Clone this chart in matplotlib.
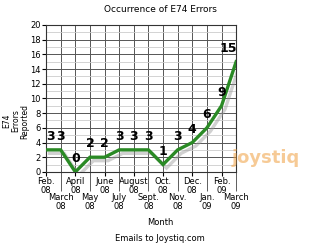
import matplotlib.pyplot as plt
import matplotlib.patheffects as pe
from matplotlib.ticker import FixedLocator

# Datos del gráfico
meses = ['Feb.\n08', 'March\n08', 'April\n08', 'May\n08', 'June\n08', 'July\n08',
         'August\n08', 'Sept.\n08', 'Oct.\n08', 'Nov.\n08', 'Dec.\n08', 'Jan.\n09',
         'Feb.\n09', 'March\n09']
errores = [3, 3, 0, 2, 2, 3, 3, 3, 1, 3, 4, 6, 9, 15]

fig = plt.figure(figsize=(3.2, 2.47), dpi=100)
ax = fig.add_axes([0.144, 0.304, 0.594, 0.595])

x = list(range(len(meses)))
ax.plot(x, errores, color='#2a8a25', linewidth=2.4, solid_joinstyle='miter',
        path_effects=[pe.SimpleLineShadow(offset=(2.5, -2.5), shadow_color='#999999', alpha=0.45),
                      pe.Normal()], zorder=3)

# Etiquetas de valores
for i, v in enumerate(errores):
    dx = 3 if i == 0 else (-6 if i == len(errores) - 1 else 0)
    ax.annotate(str(v), (i, v), xytext=(dx, 5), textcoords='offset points',
                ha='center', va='bottom', fontsize=9, fontweight='bold', zorder=4)

ax.set_xlim(0, len(meses) - 1)
ax.set_ylim(0, 20)

# Rejilla
ax.set_yticks(range(0, 21, 2))
ax.yaxis.set_minor_locator(FixedLocator(range(1, 20, 2)))
ax.set_xticks(x[0::2])
ax.set_xticks(x[1::2], minor=True)
ax.set_xticklabels(meses[0::2])
ax.set_xticklabels(meses[1::2], minor=True)
ax.grid(True, which='major', axis='both', color='#555555', linewidth=0.7)
ax.grid(True, which='minor', axis='x', color='#555555', linewidth=0.7)
ax.grid(True, which='minor', axis='y', color='#cccccc', linewidth=0.6)

ax.tick_params(axis='x', which='major', length=3, labelsize=6, pad=1)
ax.tick_params(axis='x', which='minor', length=14, labelsize=6, pad=1, color='#444444')
ax.tick_params(axis='y', which='major', length=3, labelsize=6, pad=1)
ax.tick_params(axis='y', which='minor', length=0)
for lbl in ax.get_xticklabels(which='both'):
    lbl.set_linespacing(1.0)
for s in ax.spines.values():
    s.set_color('#333333')
    s.set_linewidth(0.8)

fig.text(0.5, 0.96, 'Occurrence of E74 Errors', ha='center', va='center', fontsize=6.5)
fig.text(0.05, 0.51, 'E74\nErrors\nReported', ha='center', va='center', rotation=90,
         fontsize=5.5, linespacing=1.0)
fig.text(0.5, 0.1, 'Month', ha='center', va='center', fontsize=6)
fig.text(0.5, 0.035, 'Emails to Joystiq.com', ha='center', va='center', fontsize=6)
fig.text(0.83, 0.36, 'joystiq', ha='center', va='center', fontsize=13, fontweight='bold',
         color='#f0a040', alpha=0.55)

fig.savefig('out.png', dpi=100)
